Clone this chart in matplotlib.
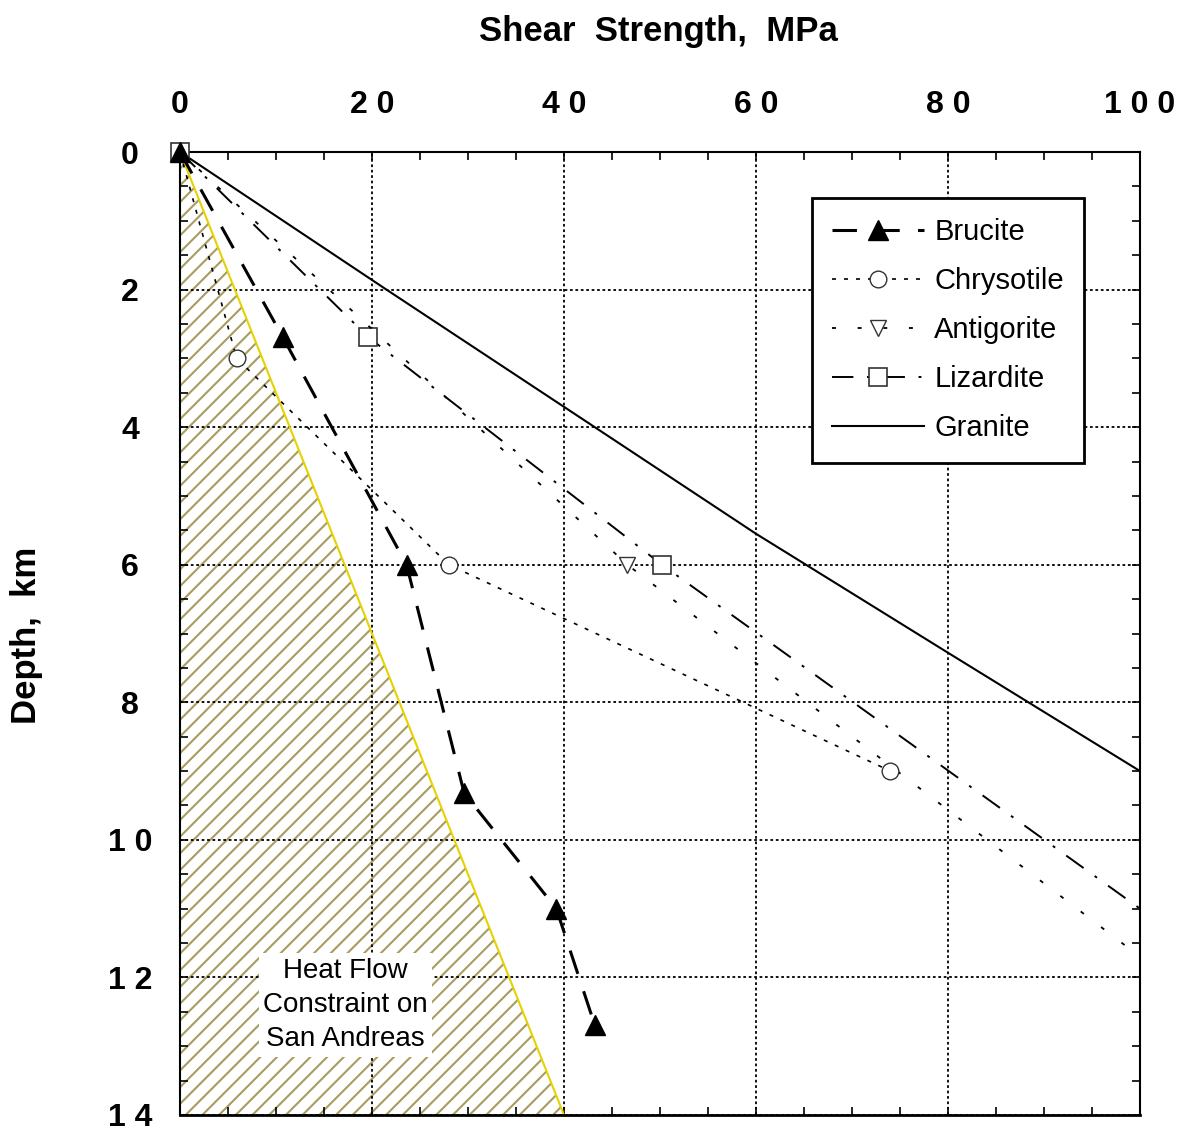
import matplotlib
matplotlib.use("Agg")
import numpy as np
import matplotlib.pyplot as plt
from matplotlib.ticker import MultipleLocator
from matplotlib.patches import Polygon
from matplotlib.collections import LineCollection

plt.rcParams['font.family'] = ['Liberation Sans', 'DejaVu Sans']

# --- data (shear strength in MPa, depth in km) ---
brucite_strength = [0, 10.7, 23.6, 29.6, 39.2, 43.2]
brucite_depth = [0, 2.69, 6.0, 9.32, 11.0, 12.69]

chrysotile_strength = [0, 5.9, 28.0, 74.0]
chrysotile_depth = [0, 3.0, 6.0, 9.0]

antigorite_strength = [0, 46.6, 100]
antigorite_depth = [0, 6.0, 11.7]

lizardite_strength = [0, 19.6, 50.2, 100]
lizardite_depth = [0, 2.69, 6.0, 11.0]

granite_strength = [0, 21.5, 43.2, 60, 80, 100]
granite_depth = [0, 2.0, 4.0, 5.55, 7.28, 9.0]

heat_strength = [0, 40]
heat_depth = [0, 14]

x_ticks = [0, 20, 40, 60, 80, 100]
x_labels = ['0', '2 0', '4 0', '6 0', '8 0', '1 0 0']
y_ticks = [0, 2, 4, 6, 8, 10, 12, 14]
y_labels = ['0', '2', '4', '6', '8', '1 0', '1 2', '1 4']

W, H = 1186, 1128
fig = plt.figure(figsize=(W / 100, H / 100), dpi=100)
ax = fig.add_axes([180 / W, 13 / H, 960 / W, 963 / H])
ax.set_xlim(0, 100)
ax.set_ylim(14, 0)

# heat flow constraint: hatched wedge left of the line
wedge = Polygon(list(zip(heat_strength, heat_depth)) + [(0, heat_depth[-1])],
                closed=True, facecolor='none', edgecolor='none',
                transform=ax.transData)
ax.add_patch(wedge)
# 45 degree (on screen) hatch lines, ~17 px apart
bbox = ax.get_position()
px_per_x = bbox.width * W / 100.0
px_per_y = bbox.height * H / 14.0
run = 14 * px_per_y / px_per_x
segs = [[(b, 14), (b + run, 0)] for b in np.arange(-run, 42, 16.7 / px_per_x)]
hatch = LineCollection(segs, colors='#a89c62', linewidths=1.5, zorder=1)
hatch.set_clip_path(wedge)
ax.add_collection(hatch)
ax.plot(heat_strength, heat_depth, color='#e6d200', lw=1.5, zorder=2)

ax.plot(granite_strength, granite_depth, color='black', lw=1.5,
        label='Granite', zorder=3)
ax.plot(lizardite_strength, lizardite_depth, color='black', lw=1.4,
        linestyle=(0, (11, 7, 1.5, 7)), marker='s', markersize=13,
        markerfacecolor='white', markeredgecolor='#333333', markeredgewidth=1.2,
        markevery=[0, 1, 2], label='Lizardite', zorder=4, clip_on=False)
ax.plot(antigorite_strength, antigorite_depth, color='black', lw=1.3,
        linestyle=(0, (2.2, 12)), marker='v', markersize=12,
        markerfacecolor='white', markeredgecolor='#333333', markeredgewidth=1.0,
        markevery=[1], label='Antigorite', zorder=4)
ax.plot(chrysotile_strength, chrysotile_depth, color='black', lw=1.2,
        linestyle=(0, (2.4, 4.8)), marker='o', markersize=12,
        markerfacecolor='white', markeredgecolor='#333333', markeredgewidth=1.0,
        markevery=[1, 2, 3], label='Chrysotile', zorder=4)
ax.plot(brucite_strength, brucite_depth, color='black', lw=2.2,
        linestyle=(0, (8, 6)), marker='^', markersize=15,
        markerfacecolor='black', markeredgecolor='black',
        label='Brucite', zorder=5, clip_on=False)

ax.set_xlim(0, 100)
ax.set_ylim(14, 0)

ax.set_xticks(x_ticks)
ax.set_xticklabels(x_labels)
ax.set_yticks(y_ticks)
ax.set_yticklabels(y_labels, ha='center')
ax.xaxis.set_minor_locator(MultipleLocator(5))
ax.yaxis.set_minor_locator(MultipleLocator(0.5))
ax.tick_params(which='both', direction='in', top=True, bottom=True,
               left=True, right=True, labeltop=True, labelbottom=False,
               width=1.2, length=6)
ax.tick_params(axis='x', which='major', labelsize=23, pad=23)
ax.tick_params(axis='y', which='major', labelsize=23, pad=36)
for lab in ax.get_xticklabels() + ax.get_yticklabels():
    lab.set_fontweight('bold')

ax.grid(True, which='major', color='black', lw=1.3, linestyle=(0, (1.5, 1.5)))
for side in ['top', 'left', 'right']:
    ax.spines[side].set_linestyle((0, (2, 1)))
    ax.spines[side].set_linewidth(1.5)
ax.spines['bottom'].set_linewidth(2)

ax.text(17.2, 12.4, 'Heat Flow\nConstraint on\nSan Andreas', fontsize=20,
        ha='center', va='center', linespacing=1.42, zorder=6,
        bbox=dict(facecolor='white', edgecolor='none', pad=3))

handles, labels = ax.get_legend_handles_labels()
order = ['Brucite', 'Chrysotile', 'Antigorite', 'Lizardite', 'Granite']
hmap = dict(zip(labels, handles))
leg = ax.legend([hmap[k] for k in order], order, loc='upper left',
                bbox_to_anchor=(812 / W, 1 - 198 / H), bbox_transform=fig.transFigure,
                borderaxespad=0, fontsize=21, handlelength=3.15, handletextpad=0.34,
                labelspacing=0.72, borderpad=0.7, numpoints=1, fancybox=False,
                framealpha=1, edgecolor='black')
leg.get_frame().set_linewidth(2)
leg.set_zorder(10)

fig.text(658 / W, 1 - 32 / H, 'Shear  Strength,  MPa', fontsize=25,
         fontweight='bold', ha='center', va='center')
fig.text(27 / W, 1 - 635 / H, 'Depth,  km', fontsize=25, fontweight='bold',
         ha='center', va='center', rotation=90)

fig.savefig('out.png', dpi=100)
